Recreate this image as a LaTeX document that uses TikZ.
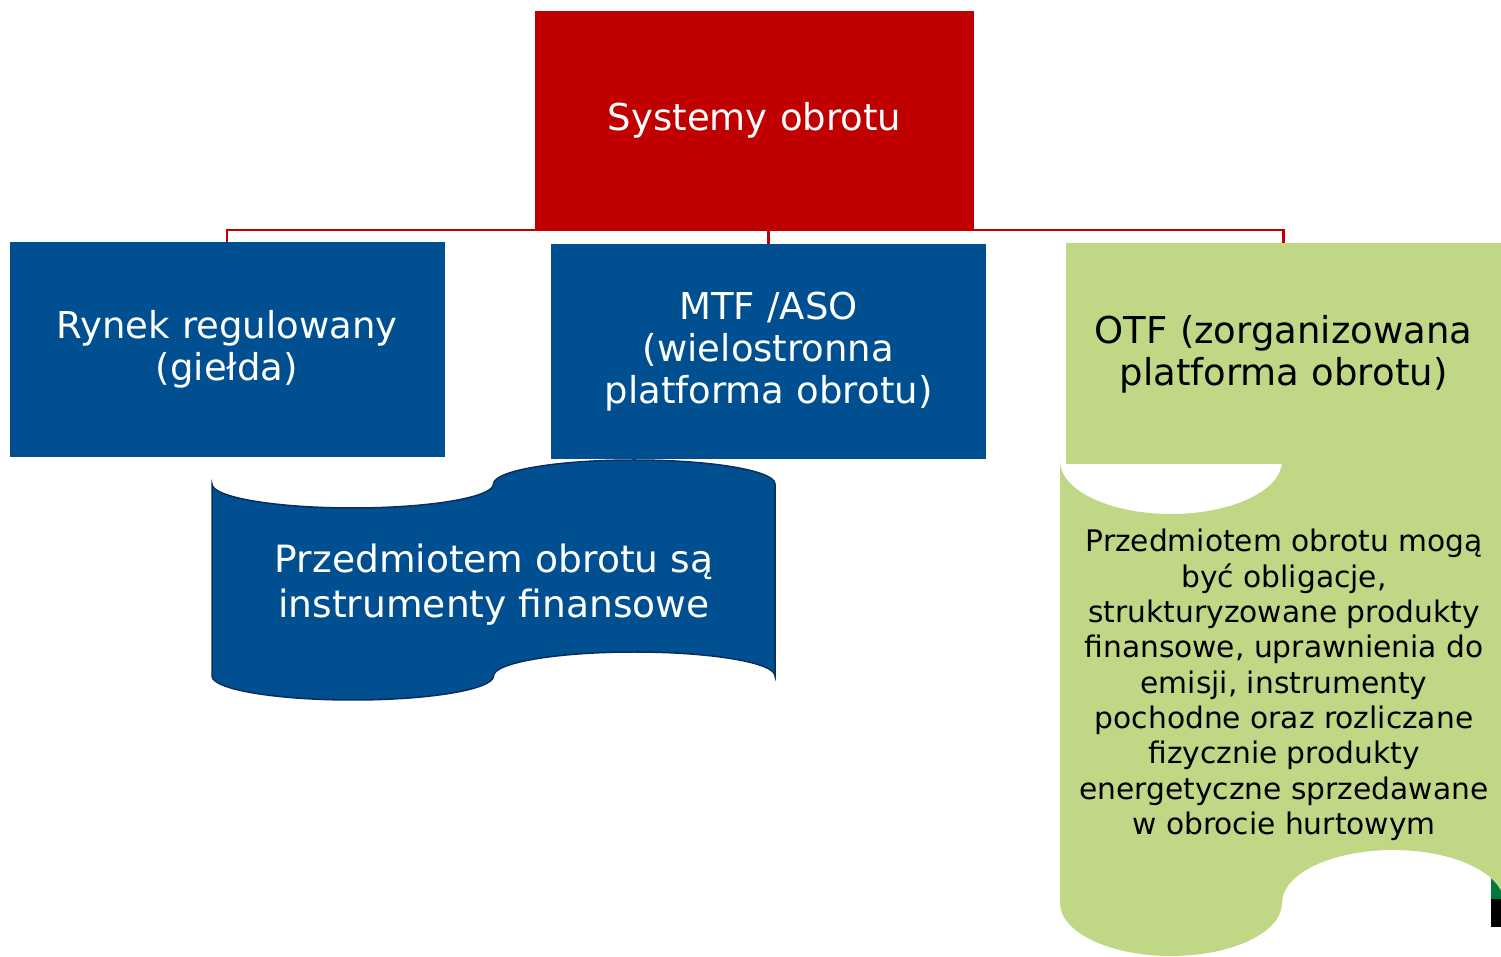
\documentclass[tikz,border=0pt]{standalone}
\usepackage{fontspec}
\setmainfont{DejaVu Sans}
\definecolor{sysred}{RGB}{192,0,0}
\definecolor{sysblue}{RGB}{0,80,145}
\definecolor{sysblueline}{RGB}{10,45,95}
\definecolor{sysgreen}{RGB}{192,215,133}
\definecolor{artgreen}{RGB}{0,120,60}
\begin{document}
\begin{tikzpicture}[x=1pt,y=1pt,
  box/.style={rectangle,inner sep=0pt,outer sep=0pt,align=center,text width=#1},
  conn/.style={draw=sysred,line width=2.2pt},
  bigtxt/.style={font=\fontsize{37}{42}\selectfont},
  smalltxt/.style={font=\fontsize{29.7}{35.3}\selectfont}]
\useasboundingbox (0,0) rectangle (1501,956);
\clip (0,0) rectangle (1501,956);
% top box
\node[box=439pt,minimum width=439pt,minimum height=219pt,fill=sysred,text=white,bigtxt] (sys) at (754.5,835.5) {Systemy obrotu};
% level 2 boxes
\node[box=435pt,minimum width=435pt,minimum height=215pt,fill=sysblue,text=white,bigtxt] (rynek) at (227,606.5) {Rynek regulowany\\(giełda)};
\node[box=435pt,minimum width=435pt,minimum height=215pt,fill=sysblue,text=white,bigtxt] (mtf) at (768.5,604.5) {MTF /ASO\\(wielostronna\\platforma obrotu)};
% artifact at bottom right
\fill[artgreen] (1491,79) rectangle (1501,57);
\fill[black] (1491,57) rectangle (1501,29);
% green wave
\fill[sysgreen] (1060,495) arc[start angle=180,end angle=360,x radius=111,y radius=53]
  arc[start angle=180,end angle=0,x radius=111,y radius=53]
  -- (1504,53) arc[start angle=0,end angle=180,x radius=111,y radius=53]
  arc[start angle=0,end angle=-180,x radius=111,y radius=53] -- cycle;
\node[box=435pt,minimum width=435pt,minimum height=221pt,fill=sysgreen,text=black,bigtxt] (otf) at (1283.5,602) {OTF (zorganizowana\\platforma obrotu)};
\node[align=center,text=black,smalltxt,inner sep=0pt] (otftxt) at (1284,271) {Przedmiotem obrotu mogą\\być obligacje,\\strukturyzowane produkty\\finansowe, uprawnienia do\\emisji, instrumenty\\pochodne oraz rozliczane\\fizycznie produkty\\energetyczne sprzedawane\\w obrocie hurtowym};
% blue wave
\filldraw[fill=sysblue,draw=sysblueline,line width=1.5pt] (212,472) arc[start angle=180,end angle=360,x radius=140.75,y radius=24]
  arc[start angle=180,end angle=0,x radius=140.75,y radius=24]
  -- (775,280) arc[start angle=0,end angle=180,x radius=140.75,y radius=24]
  arc[start angle=0,end angle=-180,x radius=140.75,y radius=24] -- cycle;
\node[align=center,text=white,font=\fontsize{37.6}{45}\selectfont,inner sep=0pt] (wavetxt) at (494,371) {Przedmiotem obrotu są\\instrumenty finansowe};
% connectors
\draw[conn] (rynek.north) |- (sys.south) -| (otf.north);
\draw[conn] (mtf.north) -- (mtf.north |- sys.south);
\end{tikzpicture}
\end{document}
